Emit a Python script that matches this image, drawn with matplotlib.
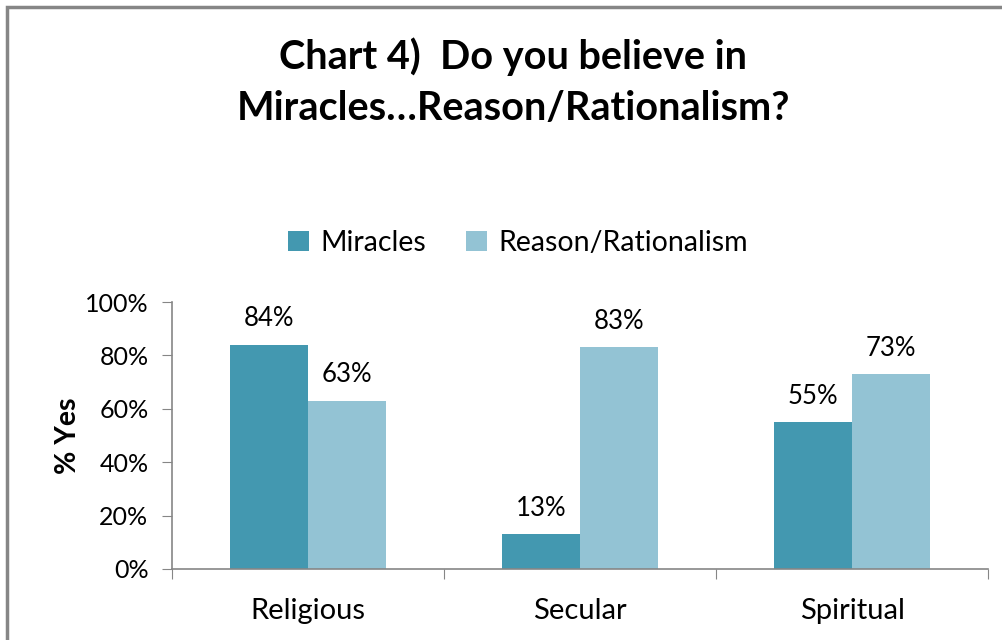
import numpy as np
import matplotlib.pyplot as plt
from matplotlib.patches import Rectangle
from matplotlib.ticker import PercentFormatter

plt.rcParams['font.family'] = ['Lato', 'DejaVu Sans']

groups = ['Religious', 'Secular', 'Spiritual']
miracles = [84, 13, 55]
reason = [63, 83, 73]
series_names = ['Miracles', 'Reason/Rationalism']
colors = ['#4398B0', '#93C3D4']

fig = plt.figure(figsize=(10.03, 6.4), dpi=100)
ax = fig.add_axes([172/1003, 1 - 569/640, (988-172)/1003, (569-302)/640])

x = np.arange(len(groups))
w = 0.285
b1 = ax.bar(x - w/2, miracles, w, color=colors[0], label=series_names[0])
b2 = ax.bar(x + w/2, reason, w, color=colors[1], label=series_names[1])

for bars, vals in [(b1, miracles), (b2, reason)]:
    for r, v in zip(bars, vals):
        ax.text(r.get_x() + r.get_width()/2, v + 5, f'{v}%',
                ha='center', va='bottom', fontsize=18.5, color='#000000')

ax.set_xlim(-0.5, 2.5)
ax.set_ylim(0, 100)
ax.set_yticks(range(0, 101, 20))
ax.yaxis.set_major_formatter(PercentFormatter(decimals=0))
ax.set_xticks([-0.5, 0.5, 1.5, 2.5])
ax.set_xticklabels([])
ax.set_xticks(x, minor=True)
ax.set_xticklabels(groups, minor=True)
ax.tick_params(axis='x', which='minor', length=0, pad=21, labelsize=21)
ax.tick_params(axis='x', which='major', length=7, color='#868686')
ax.tick_params(axis='y', length=7, color='#868686', labelsize=18, pad=10)
for s in ['top', 'right']:
    ax.spines[s].set_visible(False)
for s in ['left', 'bottom']:
    ax.spines[s].set_color('#868686')
    ax.spines[s].set_linewidth(1.2)

ax.set_ylabel('% Yes', fontsize=20.5, fontweight='bold', labelpad=3)

fig.text(513/1003, 1 - 57/640, 'Chart 4)  Do you believe in', ha='center', va='center',
         fontsize=28.5, fontweight='bold')
fig.text(513/1003, 1 - 108/640, 'Miracles\u2026Reason/Rationalism?', ha='center', va='center',
         fontsize=28.5, fontweight='bold')

fig.legend(loc='center', bbox_to_anchor=(518/1003, 1 - 243/640), ncol=2, frameon=False,
           fontsize=20.5, handlelength=0.75, handleheight=0.75, columnspacing=1.4,
           handletextpad=0.4)

fig.patches.append(Rectangle((7/1003, -0.1), 1.2, 1 - 7/640 + 0.1, transform=fig.transFigure,
                             fill=False, edgecolor='#868686', linewidth=2.5))

plt.savefig('out.png', dpi=100)
